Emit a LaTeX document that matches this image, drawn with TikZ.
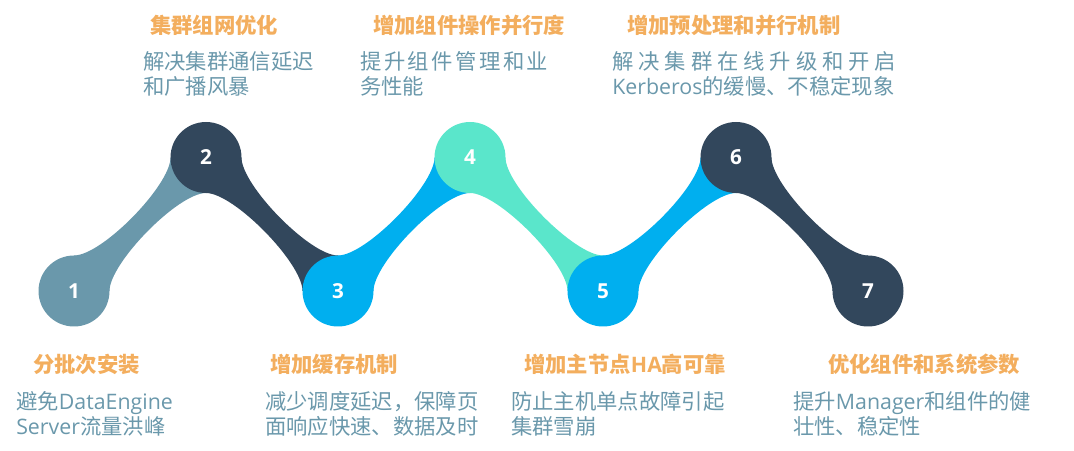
\documentclass[tikz,border=0pt]{standalone}
\usepackage{fontspec}
\setmainfont{Noto Sans CJK SC}
\newfontfamily\latinfont{Open Sans}
\usetikzlibrary{backgrounds}
\definecolor{greyblue}{HTML}{6A98AB}
\definecolor{darkslate}{HTML}{32475C}
\definecolor{skyblue}{HTML}{00AFEF}
\definecolor{turq}{HTML}{5AE6CB}
\definecolor{titleorange}{HTML}{F3AE5E}
\definecolor{textgrey}{HTML}{6A98AB}

\begin{document}
\begin{tikzpicture}[x=0.75pt,y=0.75pt,
	stepnode/.style={circle,minimum size=53.25pt,inner sep=0,outer sep=0,text=white,font=\latinfont\fontsize{15.5}{18}\selectfont\bfseries},
	steptitle/.style={anchor=west,inner sep=0,text=titleorange,font=\fontsize{16}{19}\selectfont\bfseries},
	stepdesc/.style={anchor=west,inner sep=0,align=left,text=textgrey,font=\fontsize{16}{18.75}\selectfont},
	neck/.style={looseness=0.52}]
	\useasboundingbox (0,0) rectangle (1074,450);
	\draw (74,159) node (c1) [stepnode,fill=greyblue] {1};
	\draw (206,292.5) node (c2) [stepnode,fill=darkslate] {2};
	\draw (338,159) node (c3) [stepnode,fill=skyblue] {3};
	\draw (470,292.5) node (c4) [stepnode,fill=turq] {4};
	\draw (603,159) node (c5) [stepnode,fill=skyblue] {5};
	\draw (736,292.5) node (c6) [stepnode,fill=darkslate] {6};
	\draw (868,159) node (c7) [stepnode,fill=darkslate] {7};

	% links, under the circles
	\begin{scope}[on background layer]
		\fill[greyblue] (c1.north) to[out=0,in=-90,neck] (c2.west) -- (c2.south) to[out=180,in=90,neck] (c1.east) -- cycle;
		\fill[darkslate] (c2.east) to[out=-90,in=180,neck] (c3.north) -- (c3.west) to[out=90,in=0,neck] (c2.south) -- cycle;
		\fill[skyblue] (c3.north) to[out=0,in=-90,neck] (c4.west) -- (c4.south) to[out=180,in=90,neck] (c3.east) -- cycle;
		\fill[turq] (c4.east) to[out=-90,in=180,neck] (c5.north) -- (c5.west) to[out=90,in=0,neck] (c4.south) -- cycle;
		\fill[skyblue] (c5.north) to[out=0,in=-90,neck] (c6.west) -- (c6.south) to[out=180,in=90,neck] (c5.east) -- cycle;
		\fill[darkslate] (c6.east) to[out=-90,in=180,neck] (c7.north) -- (c7.west) to[out=90,in=0,neck] (c6.south) -- cycle;
	\end{scope}

	\node[steptitle] (t1) at (33,85.5) {分批次安装};
	\node[stepdesc] (d1) at (16,36.5) {避免{\latinfont DataEngine}\\{\latinfont Server}流量洪峰};
	\node[steptitle] (t2) at (150,424.5) {集群组网优化};
	\node[stepdesc] (d2) at (143,376) {解决集群通信延迟\\和广播风暴};
	\node[steptitle] (t3) at (270,85.5) {增加缓存机制};
	\node[stepdesc] (d3) at (265,36.5) {减少调度延迟，保障页\\面响应快速、数据及时};
	\node[steptitle] (t4) at (373,424.5) {增加组件操作并行度};
	\node[stepdesc] (d4) at (360,376) {\makebox[141pt][s]{提\hfill 升\hfill 组\hfill 件\hfill 管\hfill 理\hfill 和\hfill 业}\\务性能};
	\node[steptitle] (t5) at (524,85.5) {增加主节点{\latinfont HA}高可靠};
	\node[stepdesc] (d5) at (511,36.5) {防止主机单点故障引起\\集群雪崩};
	\node[steptitle] (t6) at (627,424.5) {增加预处理和并行机制};
	\node[stepdesc] (d6) at (612,376) {\makebox[213pt][s]{解\hfill 决\hfill 集\hfill 群\hfill 在\hfill 线\hfill 升\hfill 级\hfill 和\hfill 开\hfill 启}\\{\latinfont Kerberos}的缓慢、不稳定现象};
	\node[steptitle] (t7) at (828,85.5) {优化组件和系统参数};
	\node[stepdesc] (d7) at (793,36.5) {提升{\latinfont Manager}和组件的健\\壮性、稳定性};
\end{tikzpicture}
\end{document}
